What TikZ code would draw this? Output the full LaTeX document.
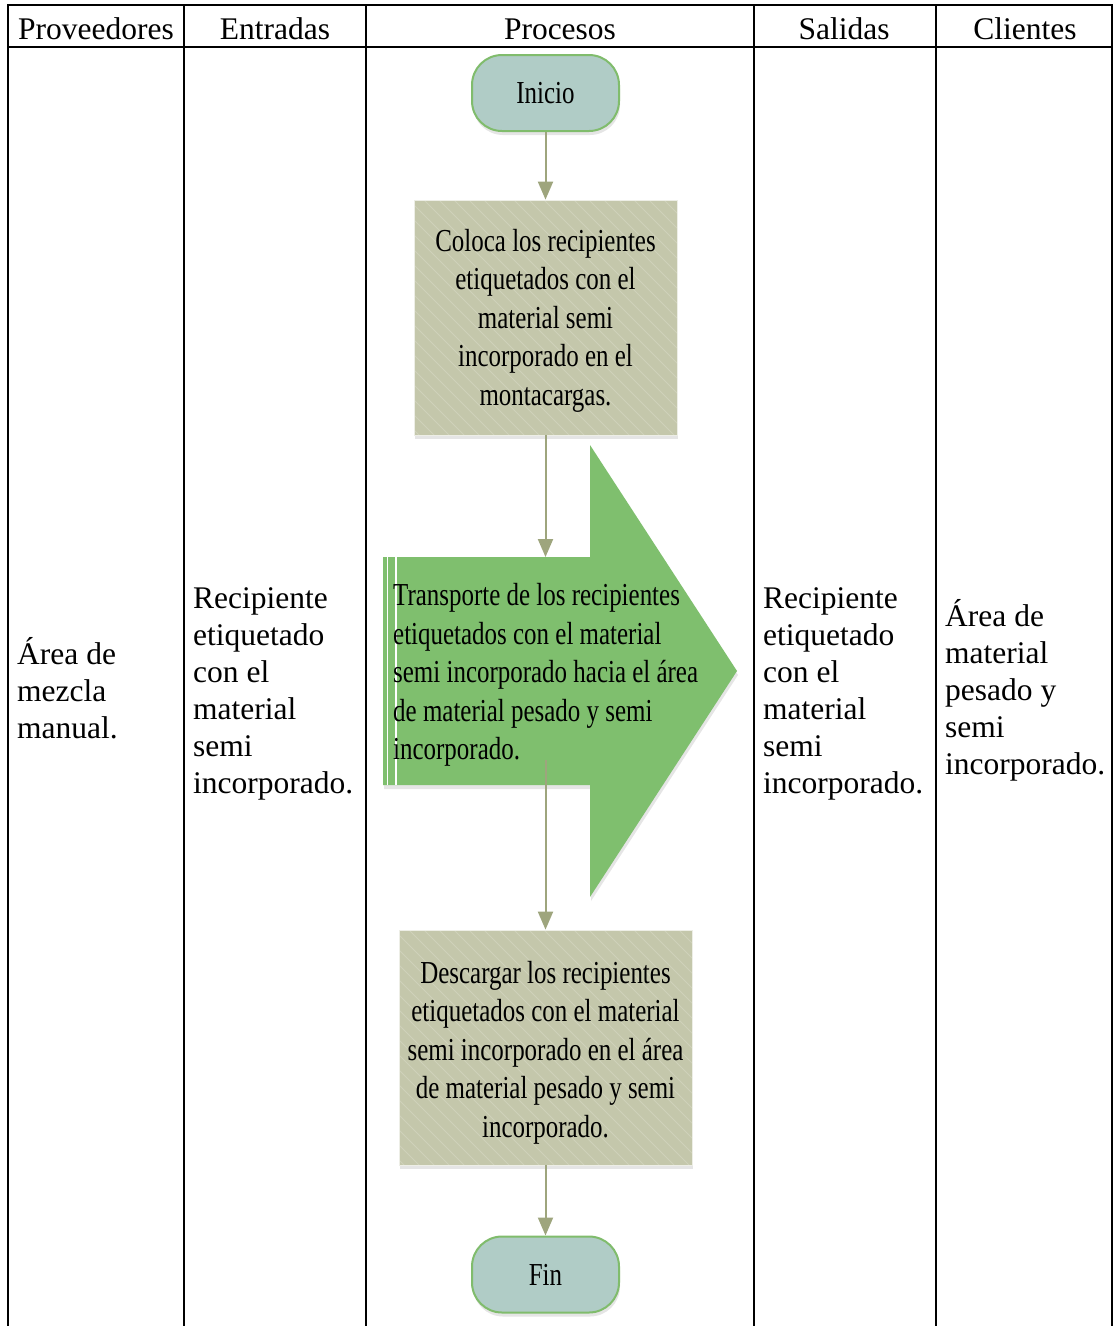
\documentclass[tikz,border=0pt]{standalone}
\usepackage{fontspec}
\setmainfont{Liberation Serif}
\newfontfamily\narrowfont[FakeStretch=0.78]{Liberation Serif}
\usetikzlibrary{arrows.meta,shadows}
\definecolor{boxfill}{RGB}{196,199,171}
\definecolor{stripecol}{RGB}{207,209,186}
\definecolor{arrowgreen}{RGB}{127,191,110}
\definecolor{termfill}{RGB}{176,204,198}
\definecolor{termborder}{RGB}{128,188,108}
\definecolor{conncol}{RGB}{158,165,125}
\begin{document}
\begin{tikzpicture}[x=1pt,y=-1pt,
  grid/.style={line width=2pt,black,line cap=rect},
  headtext/.style={font=\fontsize{31.5}{37}\selectfont, anchor=base, inner sep=0pt},
  coltext/.style={font=\fontsize{31.5}{37}\selectfont, anchor=west, align=left, inner sep=0pt},
  narrowtext/.style={font=\narrowfont\fontsize{32}{38.5}\selectfont},
  softshadow/.style={drop shadow={opacity=0.2,shadow xshift=1pt,shadow yshift=-4pt}},
  procbox/.style={narrowtext, fill=boxfill, draw=white!70!boxfill, line width=0.8pt,
    minimum height=235pt, inner sep=0pt, align=center, softshadow,
    path picture={\foreach \i in {-260,-245,...,320}{\draw[stripecol,line width=0.8pt]
      ([xshift=\i pt]path picture bounding box.north west) -- ++(300,300);}}},
  terminal/.style={narrowtext, fill=termfill, draw=termborder, line width=2pt,
    rounded corners=30pt, minimum width=147pt, minimum height=76pt, inner sep=0pt, softshadow},
  conn/.style={draw=conncol, line width=2pt, -{Triangle[width=15pt,length=18pt]}}
]
\useasboundingbox (0,0) rectangle (1114,1326);
\fill[white] (0,0) rectangle (1114,1326);

% table grid
\draw[grid] (8,5) -- (1112,5);
\draw[grid] (8,47) -- (1112,47);
\foreach \x in {8,184,366,754,936,1112} \draw[grid] (\x,5) -- (\x,1330);

% headers
\node[headtext] (h1) at (96,39) {Proveedores};
\node[headtext] (h2) at (275,39) {Entradas};
\node[headtext] (h3) at (560,39) {Procesos};
\node[headtext] (h4) at (844,39) {Salidas};
\node[headtext] (h5) at (1025,39) {Clientes};

% column texts
\node[coltext] (prov) at (17,688) {Área de\\mezcla\\manual.};
\node[coltext] (ent) at (193,694) {Recipiente\\etiquetado\\con el\\material\\semi\\incorporado.};
\node[coltext] (sal) at (763,694) {Recipiente\\etiquetado\\con el\\material\\semi\\incorporado.};
\node[coltext] (cli) at (945,690) {Área de\\material\\pesado y\\semi\\incorporado.};

% process
\node[terminal] (ini) at (545.5,93) {Inicio};
\node[procbox, minimum width=263pt] (b1) at (545.5,317.5)
  {\rule{0pt}{28pt}Coloca los recipientes\\etiquetados con el\\material semi\\incorporado en el\\montacargas.};

\path[fill=arrowgreen, softshadow] (383,557) -- (590,557) -- (590,445) -- (737,671)
  -- (590,897) -- (590,785) -- (383,785) -- cycle;
\draw[white, line width=1.2pt] (387.5,557) -- (387.5,785);
\draw[white, line width=1.2pt] (396,557) -- (396,785);
\node[narrowtext, anchor=west, align=left, inner sep=0pt] (tr) at (393,675)
  {Transporte de los recipientes\\etiquetados con el material\\semi incorporado hacia el área\\de material pesado y semi\\incorporado.};
\coordinate (arrtop) at (545.5,557);
\coordinate (arrout) at (545.5,760);

\node[procbox, minimum width=293pt] (b2) at (545.5,1047.5)
  {\rule{0pt}{32pt}Descargar los recipientes\\etiquetados con el material\\semi incorporado en el área\\de material pesado y semi\\incorporado.};
\node[terminal] (fin) at (545.5,1274.5) {Fin};

% connectors
\draw[conn] (ini) -- (b1);
\draw[conn] (b1) -- (arrtop);
\draw[conn] (arrout) -- (b2);
\draw[conn] (b2) -- (fin);
\end{tikzpicture}
\end{document}
